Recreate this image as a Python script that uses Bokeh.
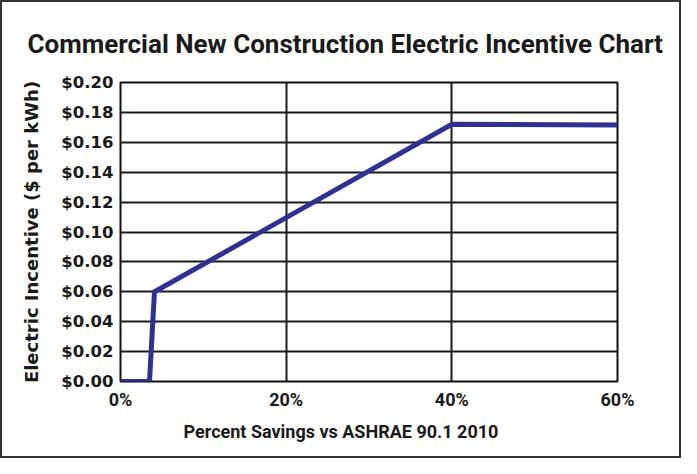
from bokeh.plotting import figure
from bokeh.models import Range1d, FixedTicker, Title, CustomJSTickFormatter
from bokeh.embed import file_html
from bokeh.resources import INLINE

# data
savings_pct = [0, 3.5, 4.1, 40, 60]
incentive = [0.0, 0.0, 0.06, 0.172, 0.1715]
x_ticks = [0, 20, 40, 60]
y_ticks = [0.00, 0.02, 0.04, 0.06, 0.08, 0.10, 0.12, 0.14, 0.16, 0.18, 0.20]

title_text = "Commercial New Construction Electric Incentive Chart"
x_label = "Percent Savings vs ASHRAE 90.1 2010"
y_label = "Electric Incentive ($ per kWh)"

p = figure(width=681, height=458, output_backend="svg", toolbar_location=None,
           x_range=Range1d(0, 60), y_range=Range1d(0, 0.2),
           min_border_left=118, min_border_right=66, min_border_top=80, min_border_bottom=79)
p.styles = {"border": "2px solid #333", "box-sizing": "border-box"}

p.outline_line_color = "#111"
p.outline_line_width = 2
p.background_fill_color = "white"

p.xaxis.ticker = FixedTicker(ticks=x_ticks)
p.yaxis.ticker = FixedTicker(ticks=y_ticks)
p.xaxis.formatter = CustomJSTickFormatter(code="return tick.toFixed(0) + '%';")
p.yaxis.formatter = CustomJSTickFormatter(code="return '$' + tick.toFixed(2);")

for ax in (p.xaxis, p.yaxis):
    ax.axis_line_color = None
    ax.major_tick_line_color = None
    ax.minor_tick_line_color = None

p.xaxis.major_label_text_font = "Roboto"
p.xaxis.major_label_text_font_style = "bold"
p.xaxis.major_label_text_font_size = "18px"
p.xaxis.major_label_text_color = "#1a1a1a"
p.xaxis.major_label_standoff = 1

p.yaxis.major_label_text_font = "DejaVu Sans"
p.yaxis.major_label_text_font_style = "bold"
p.yaxis.major_label_text_font_size = "16.5px"
p.yaxis.major_label_text_color = "#1a1a1a"
p.yaxis.major_label_standoff = 1

p.yaxis.axis_label = y_label
p.yaxis.axis_label_text_font = "DejaVu Sans"
p.yaxis.axis_label_text_font_style = "bold"
p.yaxis.axis_label_text_font_size = "18px"
p.yaxis.axis_label_text_color = "#1a1a1a"
p.yaxis.axis_label_standoff = 16

p.xgrid.ticker = FixedTicker(ticks=x_ticks)
p.ygrid.ticker = FixedTicker(ticks=y_ticks)
for g in (p.xgrid, p.ygrid):
    g.grid_line_color = "#1a1a1a"
    g.grid_line_width = 2

p.line(savings_pct, incentive, line_color="#2e3192", line_width=5, line_join="miter")

p.add_layout(Title(text=title_text, align="left", offset=-93, standoff=48,
                   text_font="Roboto", text_font_style="bold", text_font_size="26px",
                   text_color="#1a1a1a"), "above")
p.add_layout(Title(text=x_label, align="left", offset=63, standoff=12,
                   text_font="Roboto", text_font_style="bold", text_font_size="18px",
                   text_color="#1a1a1a"), "below")

open("out.html", "w").write(file_html(p, INLINE))
